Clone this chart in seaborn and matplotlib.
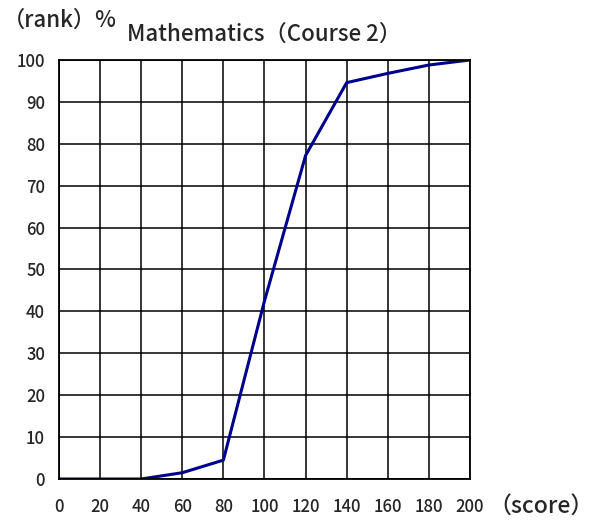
import matplotlib
matplotlib.use("Agg")
import matplotlib.pyplot as plt
import seaborn as sns
import pandas as pd

# score vs cumulative rank (%)
scores = [0, 20, 40, 60, 80, 100, 120, 140, 160, 180, 200]
rank_pct = [0, 0, 0, 1.5, 4.5, 42.5, 77.2, 94.6, 96.8, 98.8, 100]
x_ticks = list(range(0, 201, 20))
y_ticks = list(range(0, 101, 10))

df = pd.DataFrame({"score": scores, "rank": rank_pct})

sns.set_style("white")
plt.rcParams['font.family'] = ['Noto Sans CJK JP', 'DejaVu Sans']

fig = plt.figure(figsize=(5.93, 5.24), dpi=100)
ax = fig.add_axes([0.0995, 0.0859, 0.693, 0.7996])

sns.lineplot(data=df, x="score", y="rank", ax=ax, color="#00008B", linewidth=2.2)

ax.set_xlim(0, 200)
ax.set_ylim(0, 100)
ax.set_xticks(x_ticks)
ax.set_yticks(y_ticks)
ax.grid(True, color="black", linewidth=1.1)
for s in ax.spines.values():
    s.set_color("black")
    s.set_linewidth(1.3)
ax.tick_params(length=0, labelsize=12)
ax.tick_params(axis="x", pad=14)
ax.tick_params(axis="y", pad=10)
for lab in ax.get_xticklabels() + ax.get_yticklabels():
    lab.set_fontweight("medium")
ax.set_xlabel("")
ax.set_ylabel("")

ax.set_title("Mathematics（Course 2）", fontsize=16, pad=14, fontweight="medium")
fig.text(0.005, 0.962, "（rank）%", fontsize=16, va="center", ha="left", fontweight="medium")
fig.text(0.823, 0.033, "（score）", fontsize=16.5, va="center", ha="left", fontweight="medium")

fig.savefig("out.png", dpi=100)
